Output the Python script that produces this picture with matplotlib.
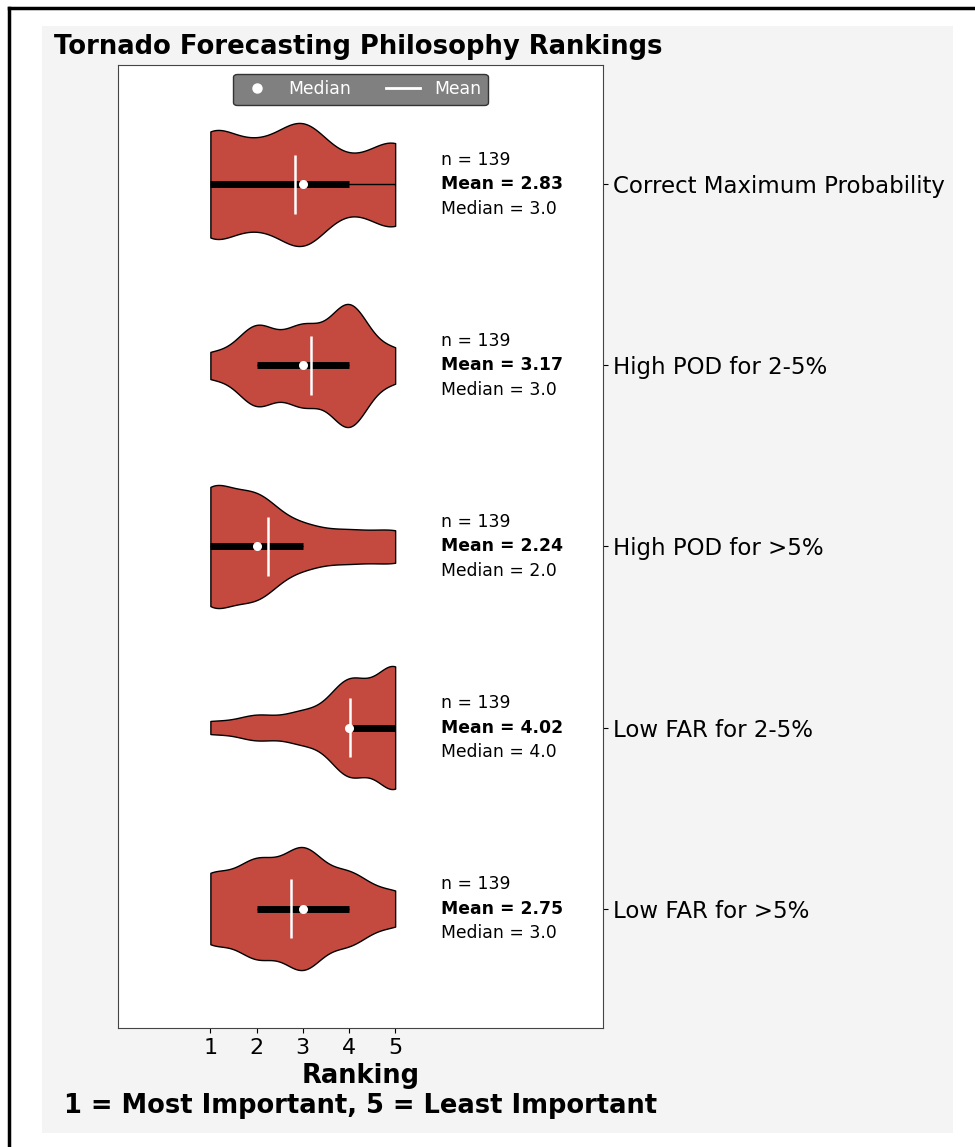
import numpy as np
import matplotlib.pyplot as plt
from matplotlib.patches import Rectangle
from matplotlib.lines import Line2D

philosophies = ['Correct Maximum Probability', 'High POD for 2-5%', 'High POD for >5%',
                'Low FAR for 2-5%', 'Low FAR for >5%']
ranks = [1, 2, 3, 4, 5]
# respondents giving rank 1..5 to each philosophy
counts = [
    [36, 22, 40, 12, 29],
    [10, 33, 32, 51, 13],
    [52, 43, 17, 13, 14],
    [6, 12, 15, 46, 60],
    [25, 34, 43, 25, 12],
]
# whisker ends as drawn in the original
whisker_lo = [1, 2, 1, 4, 2]
whisker_hi = [5, 4, 3, 5, 4]

data = [np.repeat(ranks, c) for c in counts]
pos = np.arange(1, len(data) + 1)

W, H = 975, 1147
fig = plt.figure(figsize=(W / 100, H / 100), dpi=100)
fig.patch.set_facecolor('white')
fig.add_artist(Rectangle((42 / W, 1 - 1133 / H), (953 - 42) / W, (1133 - 26) / H,
                         transform=fig.transFigure, facecolor='#f4f4f4', edgecolor='none', zorder=-5))
fig.add_artist(Line2D([9 / W, 9 / W], [0, 1 - 8 / H], transform=fig.transFigure, color='black', lw=2.5))
fig.add_artist(Line2D([9 / W, 1], [1 - 8 / H, 1 - 8 / H], transform=fig.transFigure, color='black', lw=2.5))

ax = fig.add_axes([118 / W, 1 - 1028 / H, (603 - 118) / W, (1028 - 65) / H])

parts = ax.violinplot(data, positions=pos, orientation='horizontal', widths=0.68,
                      showmeans=False, showmedians=False, showextrema=False)
for pc in parts['bodies']:
    pc.set_facecolor('#c44a40')
    pc.set_edgecolor('black')
    pc.set_linewidth(1)
    pc.set_alpha(1)

q1, med, q3 = np.percentile(np.array(data), [25, 50, 75], axis=1)
means = [d.mean() for d in data]

ax.hlines(pos, whisker_lo, whisker_hi, color='k', lw=1, zorder=2)
ax.hlines(pos, q1, q3, color='k', lw=5, zorder=2)
ax.vlines(means, pos - 0.165, pos + 0.165, color='white', lw=1.8, zorder=3)
ax.scatter(med, pos, color='white', s=30, zorder=4)

for p, d, m, md in zip(pos, data, means, med):
    ax.text(6, p - 0.133, f'n = {len(d)}', fontsize=12.4, va='center')
    ax.text(6, p, f'Mean = {m:.2f}', fontsize=12.4, va='center', weight='bold')
    ax.text(6, p + 0.133, f'Median = {md:.1f}', fontsize=12.4, va='center')

ax.set_xlim(-1, 9.5)
ax.set_ylim(5.66, 0.34)
ax.set_xticks(ranks)
ax.tick_params(axis='x', labelsize=16)
ax.set_yticks(pos)
ax.set_yticklabels(philosophies, fontsize=16.5)
ax.yaxis.tick_right()
for s in ax.spines.values():
    s.set_color('#444444')
ax.set_xlabel('Ranking\n1 = Most Important, 5 = Least Important', fontsize=18.5,
              weight='bold', labelpad=4)

handles = [Line2D([], [], marker='o', color='white', ls='None', markersize=6.5),
           Line2D([], [], color='white', lw=2)]
leg = ax.legend(handles, ['Median', 'Mean'], loc='upper center', ncol=2, facecolor='gray',
                edgecolor='#333333', framealpha=1, labelcolor='white', fontsize=12.4)

fig.text(54 / W, 1 - 47 / H, 'Tornado Forecasting Philosophy Rankings', fontsize=18.6,
         weight='bold', ha='left', va='center')

fig.savefig('out.png', dpi=100, facecolor=fig.get_facecolor())
